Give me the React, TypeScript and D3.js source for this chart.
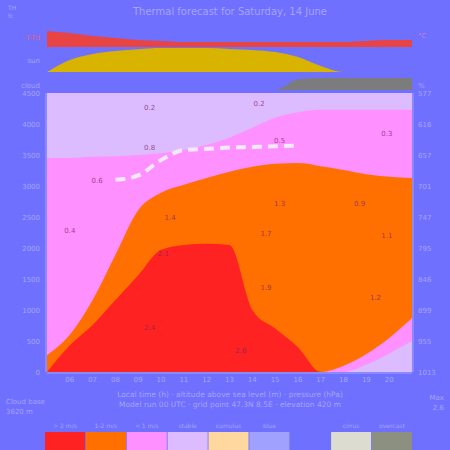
import React from 'react';
import * as d3 from 'd3';

// hours of the day along the x axis
const hours = [5, 6, 7, 8, 9, 10, 11, 12, 13, 14, 15, 16, 17, 18, 19, 20, 21];

// layer tops (m above ground) per hour
const strongTop = [0, 430, 760, 1160, 1560, 1970, 2050, 2070, 2050, 1000, 700, 400, 0, 0, 0, 0, 0];
const thermalTop = [270, 600, 1160, 1890, 2610, 2890, 3020, 3130, 3230, 3310, 3360, 3370, 3320, 3260, 3190, 3150, 3130];
const thermalBase = [0, 0, 0, 0, 0, 0, 0, 0, 0, 0, 0, 0, 0, 100, 290, 550, 870];
const humidTop = [3450, 3450, 3470, 3480, 3500, 3530, 3580, 3660, 3780, 3940, 4100, 4190, 4230, 4230, 4230, 4230, 4230];
const stableBottom = [0, 0, 0, 0, 0, 0, 0, 0, 0, 0, 0, 0, 0, 0, 120, 300, 500];

// cloud base line (dashed)
const baseHours = [8, 9, 10, 11, 12, 13, 14, 15, 16];
const cloudBase = [3100, 3170, 3420, 3580, 3600, 3620, 3630, 3640, 3650];

// top strips
const tempSpread = [8, 7, 5.5, 4.5, 3.5, 3, 2.5, 2.5, 2.5, 2.5, 2.5, 2.5, 2.5, 2.5, 3, 3.5, 3.5];
const sunshine = [0, 0.5, 0.75, 0.88, 0.95, 1, 1, 1, 0.96, 0.92, 0.83, 0.62, 0.25, 0, 0, 0, 0];
const cloudCover = [0, 0, 0, 0, 0, 0, 0, 0, 0, 0, 0, 0.9, 1, 1, 1, 1, 1];

// climb-rate labels
const climbLabels = [
  { h: 6.0, alt: 2290, v: '0.4' },
  { h: 7.2, alt: 3100, v: '0.6' },
  { h: 9.5, alt: 4270, v: '0.2' },
  { h: 9.5, alt: 3630, v: '0.8' },
  { h: 10.4, alt: 2500, v: '1.4' },
  { h: 10.1, alt: 1920, v: '2.1' },
  { h: 9.5, alt: 730, v: '2.4' },
  { h: 13.5, alt: 360, v: '2.6' },
  { h: 14.3, alt: 4340, v: '0.2' },
  { h: 15.2, alt: 3740, v: '0.5' },
  { h: 15.2, alt: 2730, v: '1.3' },
  { h: 14.6, alt: 2240, v: '1.7' },
  { h: 14.6, alt: 1370, v: '1.9' },
  { h: 19.9, alt: 3860, v: '0.3' },
  { h: 18.7, alt: 2730, v: '0.9' },
  { h: 19.9, alt: 2210, v: '1.1' },
  { h: 19.4, alt: 1210, v: '1.2' },
];

const altTicks = [0, 500, 1000, 1500, 2000, 2500, 3000, 3500, 4000, 4500];
const pressureLabels = ['1013', '955', '899', '846', '795', '747', '701', '657', '616', '577'];
const hourTicks = [6, 7, 8, 9, 10, 11, 12, 13, 14, 15, 16, 17, 18, 19, 20];

const legendItems = [
  { label: '> 2 m/s', color: '#ff2222' },
  { label: '1-2 m/s', color: '#ff7000' },
  { label: '< 1 m/s', color: '#ff90ff' },
  { label: 'stable', color: '#dcbcff' },
  { label: 'cumulus', color: '#ffd8a0' },
  { label: 'blue', color: '#a0a0ff' },
  { label: '', color: 'none' },
  { label: 'cirrus', color: '#dcdcd0' },
  { label: 'overcast', color: '#8c9080' },
];

const W = 450;
const H = 450;
const plot = { left: 47, right: 412, top: 93, bottom: 372 };
const pale = '#a4a4ff';
const font = 'DejaVu Sans, sans-serif';

export default function App() {
  const x = d3.scaleLinear().domain([5, 21]).range([plot.left, plot.right]);
  const y = d3.scaleLinear().domain([0, 4500]).range([plot.bottom, plot.top]);

  const band = (lo: number[], hi: number[]) =>
    d3.area<number>()
      .x((_, i) => x(hours[i]))
      .y0((_, i) => y(lo[i]))
      .y1((_, i) => y(hi[i]))
      .curve(d3.curveMonotoneX)(hours) || '';

  const zeros = hours.map(() => 0);

  const baseLine = d3.line<number>()
    .x((h) => x(h))
    .y((_, i) => y(cloudBase[i]))
    .curve(d3.curveMonotoneX)(baseHours) || '';

  // strip scales
  const redY = d3.scaleLinear().domain([0, 10]).range([47, 27]);
  const sunY = d3.scaleLinear().domain([0, 1]).range([72, 48]);
  const cloudY = d3.scaleLinear().domain([0, 1]).range([90, 78]);

  const strip = (vals: number[], sy: d3.ScaleLinear<number, number>) =>
    d3.area<number>()
      .x((h) => x(h))
      .y0(() => sy(0))
      .y1((_, i) => sy(vals[i]))
      .curve(d3.curveMonotoneX)(hours) || '';

  const legendX = d3.scaleBand<number>()
    .domain(legendItems.map((_, i) => i))
    .range([45, 412])
    .paddingInner(0.02);

  return (
    <svg width={W} height={H} style={{ position: 'absolute', left: 0, top: 0 }} fontFamily={font}>
      <rect width={W} height={H} fill="#7070ff" />

      {/* header */}
      <text x={230} y={15} textAnchor="middle" fontSize={10} fill={pale}>
        Thermal forecast for Saturday, 14 June
      </text>
      <text x={8} y={10} fontSize={6} fill={pale}>TH</text>
      <text x={8} y={18} fontSize={6} fill={pale}>fc</text>

      {/* top strips */}
      <path d={strip(tempSpread, redY)} fill="#e84444" />
      <path d={strip(sunshine, sunY)} fill="#d8b400" />
      <path d={strip(cloudCover, cloudY)} fill="#7c7c7c" />
      <text x={40} y={40} textAnchor="end" fontSize={7} fill="#e06080">T-Td</text>
      <text x={418} y={38} fontSize={7} fill="#c080d0">°C</text>
      <text x={40} y={63} textAnchor="end" fontSize={7} fill={pale}>sun</text>
      <text x={40} y={88} textAnchor="end" fontSize={7} fill={pale}>cloud</text>
      <text x={418} y={88} fontSize={7} fill={pale}>%</text>

      {/* main plot */}
      <rect x={plot.left} y={plot.top} width={plot.right - plot.left} height={plot.bottom - plot.top} fill="#dcbcff" />
      <path d={band(zeros, humidTop)} fill="#ff90ff" />
      <path d={band(zeros, stableBottom)} fill="#dcbcff" />
      <path d={band(thermalBase, thermalTop)} fill="#ff7000" />
      <path d={band(zeros, strongTop)} fill="#ff2222" />
      <path d={baseLine} fill="none" stroke="#f4e8ff" strokeWidth={4} strokeDasharray="10,6" />

      {climbLabels.map((c, i) => (
        <text key={i} x={x(c.h)} y={y(c.alt) + 3} textAnchor="middle" fontSize={7} fill="#802060" fillOpacity={0.75}>
          {c.v}
        </text>
      ))}

      {/* axes */}
      <line x1={plot.left - 1} x2={plot.left - 1} y1={plot.top} y2={plot.bottom} stroke={pale} />
      <line x1={plot.right + 1} x2={plot.right + 1} y1={plot.top} y2={plot.bottom} stroke={pale} />
      <line x1={plot.left} x2={plot.right} y1={plot.bottom + 1} y2={plot.bottom + 1} stroke={pale} />
      {altTicks.map((t, i) => (
        <g key={t}>
          <text x={40} y={y(t) + 3} textAnchor="end" fontSize={7} fill={pale}>{t}</text>
          <text x={418} y={y(t) + 3} fontSize={7} fill={pale}>{pressureLabels[i]}</text>
        </g>
      ))}
      {hourTicks.map((h) => (
        <text key={h} x={x(h)} y={382} textAnchor="middle" fontSize={7} fill={pale}>
          {String(h).padStart(2, '0')}
        </text>
      ))}

      {/* captions */}
      <text x={230} y={397} textAnchor="middle" fontSize={7.5} fill={pale}>
        Local time (h) · altitude above sea level (m) · pressure (hPa)
      </text>
      <text x={230} y={407} textAnchor="middle" fontSize={7.5} fill={pale}>
        Model run 00 UTC · grid point 47.3N 8.5E · elevation 420 m
      </text>
      <text x={6} y={404} fontSize={7} fill={pale}>Cloud base</text>
      <text x={6} y={414} fontSize={7} fill={pale}>3620 m</text>
      <text x={444} y={400} textAnchor="end" fontSize={7} fill={pale}>Max</text>
      <text x={444} y={410} textAnchor="end" fontSize={7} fill={pale}>2.6</text>

      {/* legend */}
      {legendItems.map((it, i) => (
        <g key={i}>
          {it.color !== 'none' && (
            <rect x={legendX(i)} y={432} width={legendX.bandwidth()} height={22} fill={it.color} />
          )}
          <text x={(legendX(i) || 0) + legendX.bandwidth() / 2} y={428} textAnchor="middle" fontSize={6} fill={pale}>
            {it.label}
          </text>
        </g>
      ))}
    </svg>
  );
}
